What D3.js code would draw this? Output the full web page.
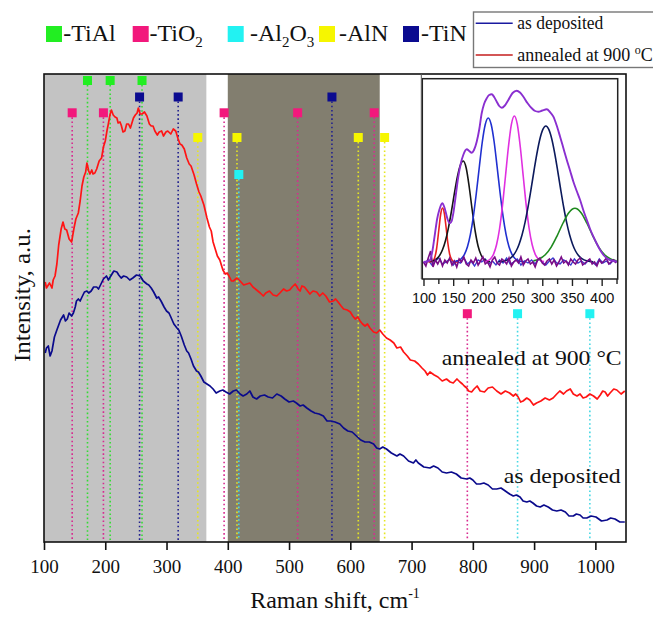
<!DOCTYPE html>
<html><head><meta charset="utf-8">
<script src="https://cdn.jsdelivr.net/npm/d3@7"></script>
<style>body{margin:0;background:#fff}svg{display:block}</style>
</head><body>
<svg id="c" width="653" height="617"></svg>
<script>
// ---------- DATA ----------
// Raman spectra: [wavenumber cm^-1, intensity a.u.]
const annealed = [[102,260],[104,254],[106,256],[109,259],[113,254],[115,262],[118,266],[121,278],[124,297],[128,313],[131,320],[134,313],[137,312],[141,303],[145,300],[149,314],[152,323],[156,329],[159,341],[162,356],[165,365],[168,370],[170,379],[173,371],[175,368],[178,372],[180,368],[183,369],[186,373],[190,381],[194,384],[197,395],[200,401],[203,412],[205,418],[208,428],[210,432],[213,427],[216,425],[219,424],[221,419],[224,420],[226,417],[229,410],[232,411],[235,418],[238,418],[241,414],[243,418],[246,424],[249,427],[252,429],[254,434],[257,428],[260,428],[264,430],[268,426],[272,418],[275,416],[278,416],[281,411],[285,407],[288,410],[292,411],[295,406],[299,410],[302,411],[307,408],[311,413],[315,411],[319,403],[322,398],[325,397],[329,393],[333,384],[337,378],[340,376],[345,367],[349,358],[353,350],[356,346],[361,337],[366,324],[370,315],[373,311],[376,300],[379,294],[383,286],[387,282],[392,272],[396,268],[399,269],[402,266],[406,261],[409,261],[415,264],[420,261],[426,257],[431,258],[436,259],[441,255],[447,252],[453,249],[458,246],[462,249],[468,251],[474,247],[480,246],[485,249],[491,253],[496,251],[501,252],[505,255],[510,258],[515,253],[518,251],[521,256],[525,255],[529,252],[534,248],[539,251],[545,250],[550,246],[555,249],[560,246],[566,240],[572,241],[576,243],[580,240],[585,236],[589,233],[595,232],[600,230],[604,226],[608,223],[612,225],[616,221],[620,218],[624,216],[628,218],[632,214],[638,210],[643,209],[648,212],[653,208],[659,204],[665,202],[671,199],[676,194],[682,195],[687,190],[693,186],[698,182],[705,181],[711,178],[717,174],[722,171],[726,167],[730,170],[737,167],[743,165],[750,161],[757,163],[763,160],[768,159],[774,163],[779,160],[783,158],[786,156],[790,154],[793,151],[798,150],[802,153],[807,156],[812,151],[819,150],[825,154],[832,155],[839,151],[846,148],[853,151],[860,149],[866,146],[870,148],[874,145],[878,140],[882,141],[888,144],[893,142],[899,137],[904,139],[911,141],[918,144],[925,142],[931,144],[937,148],[942,151],[948,148],[953,151],[959,153],[964,148],[970,146],[975,148],[980,144],[985,145],[991,148],[997,146],[1003,143],[1008,147],[1012,151],[1016,150],[1020,146],[1024,149],[1030,153],[1035,152],[1042,148],[1048,151]];
const deposited = [[102,189],[104,194],[107,196],[110,186],[113,191],[117,205],[121,212],[127,222],[132,227],[135,221],[138,223],[141,229],[145,226],[148,229],[151,235],[153,241],[156,243],[159,241],[162,245],[166,250],[170,251],[173,249],[177,251],[181,255],[186,255],[189,253],[193,258],[197,263],[202,266],[205,262],[209,266],[214,271],[219,270],[222,267],[226,264],[230,266],[235,265],[240,262],[245,264],[251,267],[257,266],[262,261],[268,258],[271,257],[275,254],[279,250],[284,244],[287,245],[291,241],[296,235],[300,231],[304,229],[307,225],[312,218],[317,214],[320,212],[324,206],[329,197],[333,191],[336,189],[340,183],[344,176],[349,171],[352,170],[356,166],[361,160],[366,158],[371,156],[376,153],[381,149],[387,151],[392,152],[397,150],[403,148],[409,151],[414,152],[420,148],[425,146],[431,148],[436,151],[441,145],[447,143],[453,146],[460,147],[466,145],[473,144],[480,148],[487,146],[493,143],[500,140],[507,141],[512,139],[518,136],[523,137],[529,134],[536,131],[542,129],[549,128],[556,126],[562,121],[568,121],[575,120],[583,118],[589,114],[596,111],[603,110],[610,106],[617,102],[624,100],[631,100],[638,98],[643,94],[648,93],[653,95],[659,93],[667,89],[676,86],[681,88],[687,86],[695,81],[703,79],[707,82],[711,79],[720,75],[730,74],[736,76],[743,74],[750,70],[757,69],[765,70],[773,68],[781,64],[790,63],[795,64],[800,62],[806,58],[812,58],[818,59],[825,57],[832,53],[839,53],[846,54],[853,51],[860,48],[866,46],[871,47],[877,45],[882,41],[888,40],[893,41],[898,39],[904,36],[910,35],[916,37],[923,35],[930,32],[937,31],[944,32],[951,30],[957,26],[964,26],[969,28],[975,27],[980,24],[986,24],[993,26],[1001,25],[1010,21],[1019,22],[1025,24],[1032,23],[1040,20],[1048,20]];

// shaded regions [from, to]
const lightBand = [100, 365];
const darkBand = [400, 648];

// phase reference lines (cm^-1)
const TiAl = [171, 208, 260];
const TiO2 = [146, 197, 394, 514, 639, 791];
const Al2O3 = [418, 873, 991];
const AlN = [351, 415, 613, 656];
const TiN = [256, 319, 570];

const xTicks = [100, 200, 300, 400, 500, 600, 700, 800, 900, 1000];

// inset: deconvolution of the 100-430 cm^-1 region
const insetTicks = [100, 150, 200, 250, 300, 350, 400];
const insetMinor = [125, 175, 225, 275, 325, 375, 425];
const envelope = [[100,17],[106,17.5],[111,19],[115,28],[119.4,45.7],[123,60],[126.6,69],[131.7,75.7],[135,72],[137.9,65.7],[141,59],[144.6,55.7],[147.5,58],[150.2,65.7],[154,82],[158.6,102.3],[163,116],[167,124],[172.8,129.7],[177,128],[181.2,126.3],[185,129],[189.6,137.3],[194,150],[198,165.7],[202,175],[206.5,180.7],[210.5,184],[214.9,184.7],[219,182],[223.3,177.3],[227.5,173],[231.8,171.3],[237,173.5],[242.9,179],[250,186],[257,188.3],[262.5,186.5],[268.2,182.3],[275,176],[282.3,170.7],[288,168],[293.4,167.3],[300,168.5],[307.6,169.7],[313,167],[318.7,162.3],[324,154],[330,142.3],[335.5,131],[341.3,119],[347,108],[352.4,97.3],[358,88],[363.7,79],[369,69],[375,59],[380.5,50],[386.1,42.3],[392,35],[397.4,29],[403,24],[408.7,20.7],[414,19],[419.8,18],[426,17.5]];
const peakRed = [[108,17],[114,17.5],[118,20],[122,30],[126,50],[129,65],[132,71],[135,66],[138,52],[141,36],[144,25],[148,19],[152,17],[158,17]];
const peakBlack = [[112,17.5],[117,18.3],[122,20.1],[127,23.4],[132,29.2],[137,38.3],[142,51.2],[147,67.5],[152,85.5],[157,102],[162,113.8],[167,118],[172,110.8],[177,92],[182,69],[187,48],[192,32.8],[197,24],[202,19.7],[207,17.9],[212,17.2]];
const peakBlue = [[149,17.2],[159,18.5],[164,20.5],[169,24.6],[174,32.2],[179,44.6],[184,62.7],[189,86],[194,112],[199,137],[204,154.5],[209,161],[214,154.5],[219,137],[224,112],[229,86],[234,62.7],[239,44.6],[244,32.2],[249,24.6],[254,20.5],[259,18.5],[269,17.2]];
const peakMagenta = [[203,17.4],[208,18.2],[213,20.2],[218,24.9],[223,34.2],[228,50],[233,73.4],[238,102.5],[243,132],[248,154.6],[253,163],[258,154.6],[263,132],[268,102.5],[273,73.4],[278,50],[283,34.2],[288,24.9],[293,20.2],[298,18.2],[303,17.4]];
const peakNavy = [[226,17.2],[236,18],[246,20.7],[251,23.5],[256,28],[261,34.8],[266,44.2],[271,56.6],[276,72],[281,89.5],[286,108],[291,125.5],[296,140],[301,149.6],[306,153],[311,149.6],[316,140],[321,125.5],[326,108],[331,89.5],[336,72],[341,56.6],[346,44.2],[351,34.8],[356,28],[361,23.5],[366,20.7],[376,18],[386,17.2]];
const peakGreen = [[285,18.1],[295,20],[305,24.2],[315,31.9],[325,43.2],[335,56],[345,66.6],[355,70.7],[365,66.6],[375,56],[385,43.2],[395,31.9],[405,24.2],[415,20],[425,18.1]];
const residPurple = [[100,17],[104,13],[108,21],[112,28],[116,12],[120,19],[124,15],[128,20],[132,13],[136,19],[140,16],[144,21],[148,14],[152,18],[156,12],[160,20],[164,17],[168,22],[172,15],[176,13],[180,19],[184,16],[188,21],[192,14],[196,18],[200,22],[204,15],[208,17],[212,12],[216,19],[220,22],[224,16],[228,14],[232,20],[236,18],[240,15],[244,21],[248,13],[252,17],[256,19],[260,16],[264,22],[268,14],[272,18],[276,20],[280,15],[284,17],[288,12],[292,19],[296,21],[300,16],[304,14],[308,18],[312,20],[316,15],[320,19],[324,13],[328,17],[332,22],[336,16],[340,18],[344,14],[348,20],[352,17],[356,15],[360,19],[364,21],[368,14],[372,16],[376,18],[380,20],[384,15],[388,17],[392,13],[396,19],[400,16],[404,18],[408,21],[412,15],[416,17],[420,19],[424,16]];
const residBlue = [[102,16],[108,19],[114,14],[120,18],[126,21],[132,15],[138,17],[144,20],[150,14],[156,18],[162,16],[168,21],[174,15],[180,18],[186,13],[192,19],[198,17],[204,20],[210,15],[216,18],[222,14],[228,19],[234,16],[240,21],[246,15],[252,17],[258,20],[264,14],[270,18],[276,16],[282,19],[288,15],[294,20],[300,17],[306,14],[312,18],[318,21],[324,16],[330,15],[336,19],[342,17],[348,14],[354,20],[360,16],[366,18],[372,15],[378,19],[384,17],[390,14],[396,20],[402,16],[408,18],[414,15],[420,19],[426,17]];

// ---------- DRAW ----------
const svg = d3.select('#c');
const SERIF = "'Liberation Serif','Times New Roman',serif";
const SANS = "'Liberation Sans',Arial,sans-serif";
const L = 44, R = 626, T = 74, B = 542;
const x = d3.scaleLinear().domain([100, 1050]).range([L, R]);
const y = d3.scaleLinear().domain([0, 468]).range([B, T]);

svg.append('defs').append('clipPath').attr('id','pc').append('rect')
  .attr('x', L).attr('y', T).attr('width', R - L).attr('height', B - T);

const g = svg.append('g');
g.append('rect').attr('x', x(lightBand[0])).attr('y', T).attr('width', x(lightBand[1]) - x(lightBand[0])).attr('height', B - T).attr('fill', '#c3c3c3');
g.append('rect').attr('x', x(darkBand[0])).attr('y', T).attr('width', x(darkBand[1]) - x(darkBand[0])).attr('height', B - T).attr('fill', '#827e6f');

const phases = [
  {name:'TiAl', vals:TiAl, sq:'#22ee22', ln:'#33dd33', row:80.5},
  {name:'TiO2', vals:TiO2, sq:'#f2187c', ln:'#d82a90', row:112.8},
  {name:'Al2O3', vals:Al2O3, sq:'#22f2f2', ln:'#44d8e4', row:174.5},
  {name:'AlN', vals:AlN, sq:'#f6f600', ln:'#e6e622', row:137.5},
  {name:'TiN', vals:TiN, sq:'#0b0b90', ln:'#22228f', row:97}
];
const lowRow = 313.7; // markers placed under the inset
const SQ = 9;
phases.forEach(p => {
  p.vals.forEach(v => {
    const cy = v > 700 ? lowRow : p.row;
    g.append('line').attr('x1', x(v)).attr('x2', x(v)).attr('y1', cy + SQ/2).attr('y2', B - 2)
      .attr('stroke', p.ln).attr('stroke-width', 1.6).attr('stroke-dasharray', '1.6,2.6');
  });
});

const line = d3.line().x(d => x(d[0])).y(d => y(d[1]));
const curves = svg.append('g').attr('clip-path', 'url(#pc)');
curves.append('path').datum(deposited).attr('d', line).attr('fill','none').attr('stroke','#0a0a8c').attr('stroke-width',1.7).attr('stroke-linejoin','round');
curves.append('path').datum(annealed).attr('d', line).attr('fill','none').attr('stroke','#ff1414').attr('stroke-width',1.7).attr('stroke-linejoin','round');

phases.forEach(p => {
  p.vals.forEach(v => {
    const cy = v > 700 ? lowRow : p.row;
    svg.append('rect').attr('x', x(v) - SQ/2).attr('y', cy - SQ/2).attr('width', SQ).attr('height', SQ).attr('fill', p.sq);
  });
});

svg.append('rect').attr('x', L).attr('y', T).attr('width', R - L).attr('height', B - T)
  .attr('fill','none').attr('stroke','#111').attr('stroke-width',1.6);

const ax = svg.append('g').attr('transform', `translate(0,${B})`)
  .call(d3.axisBottom(x).tickValues(xTicks).tickFormat(d3.format('d')).tickSize(8).tickSizeOuter(0).tickPadding(9.5));
ax.select('.domain').remove();
ax.selectAll('line').attr('stroke','#111').attr('stroke-width',1.6);
ax.selectAll('text').attr('font-family', SERIF).attr('font-size', 19).attr('fill','#111');

const xt = svg.append('text').attr('x', 335).attr('y', 608).attr('text-anchor','middle')
  .attr('font-family', SERIF).attr('font-size', 24).attr('fill','#111');
xt.append('tspan').text('Raman shift, cm');
xt.append('tspan').attr('font-size', 14).attr('dy', -10).text('-1');

svg.append('text').attr('transform','translate(30,295) rotate(-90)').attr('text-anchor','middle')
  .attr('font-family', SERIF).attr('font-size', 23).attr('fill','#111')
  .attr('textLength', 134).attr('lengthAdjust','spacingAndGlyphs').text('Intensity, a.u.');

svg.append('text').attr('x', 621.7).attr('y', 365).attr('text-anchor','end')
  .attr('font-family', SERIF).attr('font-size', 22).attr('fill','#111')
  .attr('textLength', 180).attr('lengthAdjust','spacingAndGlyphs').text('annealed at 900 °C');
svg.append('text').attr('x', 620.7).attr('y', 483.3).attr('text-anchor','end')
  .attr('font-family', SERIF).attr('font-size', 22).attr('fill','#111')
  .attr('textLength', 117).attr('lengthAdjust','spacingAndGlyphs').text('as deposited');

// ---------- INSET ----------
const iL = 422.3, iR = 617.7, iT = 78.7, iB = 279;
const ix = d3.scaleLinear().domain([98, 427]).range([iL, iR]);
const iy = d3.scaleLinear().domain([0, iB - iT]).range([iB, iT]);
svg.append('defs').append('clipPath').attr('id','ic').append('rect')
  .attr('x', iL).attr('y', iT).attr('width', iR - iL).attr('height', iB - iT);
svg.append('rect').attr('x', iL - 2).attr('y', iT - 3).attr('width', iR - iL + 4).attr('height', iB - iT + 3).attr('fill','#fff');
const ig = svg.append('g').attr('clip-path','url(#ic)');
const iline = d3.line().x(d => ix(d[0])).y(d => iy(d[1]));
const smooth = d3.line().x(d => ix(d[0])).y(d => iy(d[1])).curve(d3.curveMonotoneX);
ig.append('path').datum(residBlue).attr('d', iline).attr('fill','none').attr('stroke','#3a3ad0').attr('stroke-width',1.4);
[[peakRed,'#e82020'],[peakBlack,'#151515'],[peakBlue,'#2030d0'],[peakMagenta,'#e030e0'],[peakNavy,'#0c1a5c'],[peakGreen,'#1f8a1f']].forEach(([d,c]) => {
  ig.append('path').datum(d).attr('d', smooth).attr('fill','none').attr('stroke', c).attr('stroke-width',1.6);
});
ig.append('path').datum(residPurple).attr('d', iline).attr('fill','none').attr('stroke','#7a0c86').attr('stroke-width',1.6);
ig.append('path').datum(envelope).attr('d', smooth).attr('fill','none').attr('stroke','#8a2fd0').attr('stroke-width',1.9);
svg.append('rect').attr('x', iL).attr('y', iT).attr('width', iR - iL).attr('height', iB - iT)
  .attr('fill','none').attr('stroke','#222').attr('stroke-width',1.5);
svg.append('line').attr('x1', iL - 1).attr('x2', iL - 1).attr('y1', T).attr('y2', iB).attr('stroke','#555').attr('stroke-width',1);
const iax = svg.append('g').attr('transform', `translate(0,${iB})`)
  .call(d3.axisBottom(ix).tickValues(insetTicks).tickSize(7).tickSizeOuter(0).tickPadding(6.4));
iax.select('.domain').remove();
iax.selectAll('line').attr('stroke','#222').attr('stroke-width',1.4);
iax.selectAll('text').attr('font-family', SANS).attr('font-size', 14.5).attr('fill','#111');
const imin = svg.append('g').attr('transform', `translate(0,${iB})`)
  .call(d3.axisBottom(ix).tickValues(insetMinor).tickSize(5).tickFormat(''));
imin.select('.domain').remove();
imin.selectAll('line').attr('stroke','#222').attr('stroke-width',1.4);

// ---------- LEGENDS ----------
const legItems = [
  {sq:'#22ee22', x:46, tx:63.3, parts:[['-TiAl',0]]},
  {sq:'#f2187c', x:132.7, tx:149.5, parts:[['-TiO',0],['2',1]]},
  {sq:'#22f2f2', x:227.7, tx:250, parts:[['-Al',0],['2',1],['O',0],['3',1]]},
  {sq:'#f6f600', x:319, tx:339, parts:[['-AlN',0]]},
  {sq:'#0b0b90', x:403, tx:421, parts:[['-TiN',0]]}
];
legItems.forEach(it => {
  svg.append('rect').attr('x', it.x).attr('y', 26).attr('width', 16).attr('height', 16).attr('fill', it.sq);
  const t = svg.append('text').attr('x', it.tx).attr('y', 41).attr('font-family', SERIF).attr('font-size', 24).attr('fill','#111');
  let sub = false;
  it.parts.forEach(([s, isSub]) => {
    const ts = t.append('tspan').text(s);
    if (isSub && !sub) { ts.attr('font-size', 15).attr('dy', 6); sub = true; }
    else if (!isSub && sub) { ts.attr('dy', -6); sub = false; }
    else if (isSub) ts.attr('font-size', 15);
  });
});

svg.append('rect').attr('x', 473.5).attr('y', 12).attr('width', 200).attr('height', 55.5)
  .attr('fill','#fff').attr('stroke','#777').attr('stroke-width',1.4);
svg.append('line').attr('x1', 475.7).attr('x2', 512.7).attr('y1', 23.3).attr('y2', 23.3).attr('stroke','#1a1aa0').attr('stroke-width',1.6);
svg.append('line').attr('x1', 475.7).attr('x2', 512.7).attr('y1', 55).attr('y2', 55).attr('stroke','#c41e1e').attr('stroke-width',1.6);
svg.append('text').attr('x', 517.3).attr('y', 29).attr('font-family', SERIF).attr('font-size', 18).attr('fill','#111')
  .attr('textLength', 86).attr('lengthAdjust','spacingAndGlyphs').text('as deposited');
const lt = svg.append('text').attr('x', 517.3).attr('y', 60.5).attr('font-family', SERIF).attr('font-size', 18).attr('fill','#111');
lt.append('tspan').text('annealed at 900 ');
lt.append('tspan').attr('font-size', 12).attr('dy', -7).text('o');
lt.append('tspan').attr('dy', 7).text('C');
</script>
</body></html>
